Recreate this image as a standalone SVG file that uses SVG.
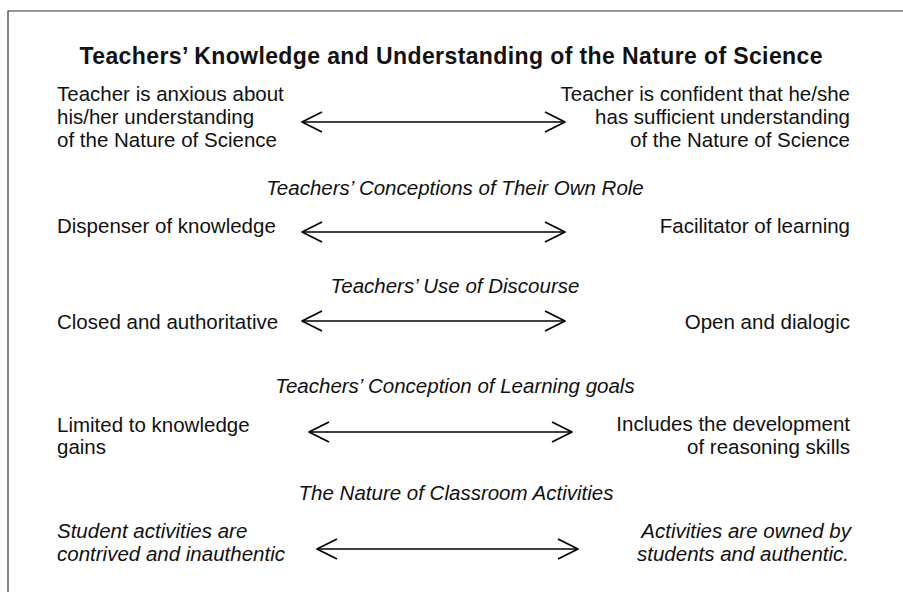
<svg xmlns="http://www.w3.org/2000/svg" width="903" height="592" viewBox="0 0 903 592">
<style>
text{font-family:"Liberation Sans",Arial,sans-serif;fill:#111;font-size:20.5px}
.t{font-weight:bold;font-size:23px;text-anchor:middle}
.h{font-style:italic;text-anchor:middle}
.i{font-style:italic}
.r{text-anchor:end}
.frame{fill:none;stroke:#333;stroke-width:1.2}
.arr{stroke:#000;stroke-width:1.7;fill:none;marker-start:url(#ah);marker-end:url(#ah)}
</style>
<defs>
<marker id="ah" viewBox="-24 -12 26 24" refX="0" refY="0" markerWidth="26" markerHeight="24" markerUnits="userSpaceOnUse" orient="auto-start-reverse">
<path d="M-20,-10 L0,0 L-20,10" fill="none" stroke="#000" stroke-width="1.7" stroke-linejoin="round"/>
</marker>
</defs>
<path class="frame" d="M8,592 V11 H903"/>
<g id="title"><text class="t" x="451" y="64" textLength="743" lengthAdjust="spacing">Teachers’ Knowledge and Understanding of the Nature of Science</text></g>

<g id="row1-left"><text x="57" y="101">Teacher is anxious about</text><text x="57" y="124">his/her understanding</text><text x="57" y="147">of the Nature of Science</text></g>
<g id="row1-right"><text class="r" x="850" y="101">Teacher is confident that he/she</text><text class="r" x="850" y="124">has sufficient understanding</text><text class="r" x="850" y="147">of the Nature of Science</text></g>

<g id="heading2"><text class="h" x="455" y="195">Teachers’ Conceptions of Their Own Role</text></g>
<g id="row2-left"><text x="57" y="233">Dispenser of knowledge</text></g>
<g id="row2-right"><text class="r" x="850" y="233">Facilitator of learning</text></g>

<g id="heading3"><text class="h" x="455" y="293">Teachers’ Use of Discourse</text></g>
<g id="row3-left"><text x="57" y="329">Closed and authoritative</text></g>
<g id="row3-right"><text class="r" x="850" y="329">Open and dialogic</text></g>

<g id="heading4"><text class="h" x="455" y="393">Teachers’ Conception of Learning goals</text></g>
<g id="row4-left"><text x="57" y="432">Limited to knowledge</text><text x="57" y="454">gains</text></g>
<g id="row4-right"><text class="r" x="850" y="431">Includes the development</text><text class="r" x="850" y="454">of reasoning skills</text></g>

<g id="heading5"><text class="h" x="456" y="500">The Nature of Classroom Activities</text></g>
<g id="row5-left"><text class="i" x="57" y="538">Student activities are</text><text class="i" x="57" y="561">contrived and inauthentic</text></g>
<g id="row5-right"><text class="i r" x="851" y="538">Activities are owned by</text><text class="i r" x="849" y="561">students and authentic.</text></g>

<g id="connectors">
<line class="arr" x1="302" y1="122" x2="565" y2="122"/>
<line class="arr" x1="302" y1="232" x2="565" y2="232"/>
<line class="arr" x1="302" y1="321" x2="565" y2="321"/>
<line class="arr" x1="309" y1="432" x2="572" y2="432"/>
<line class="arr" x1="317" y1="549" x2="578" y2="549"/>
</g>
</svg>
